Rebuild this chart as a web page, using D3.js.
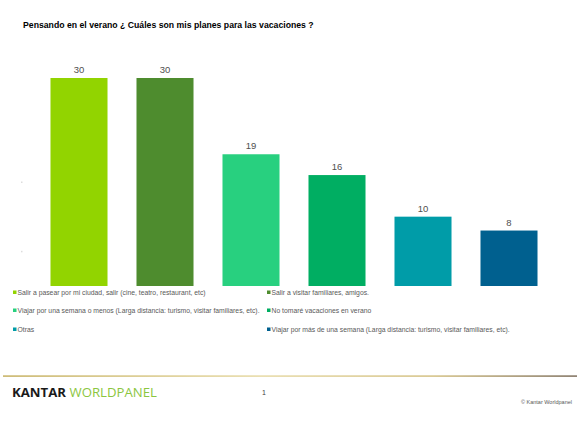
<!DOCTYPE html>
<html><head><meta charset="utf-8">
<script src="https://cdn.jsdelivr.net/npm/d3@7/dist/d3.min.js"></script>
<style>html,body{margin:0;padding:0;background:#fff;}svg{display:block;font-family:Arial,"Liberation Sans",sans-serif;}</style>
</head><body>
<script>
const title = "Pensando en el verano ¿ Cuáles son mis planes para las vacaciones ?";
const categories = [
  "Salir a pasear por mi ciudad, salir (cine, teatro, restaurant, etc)",
  "Salir a visitar familiares, amigos.",
  "Viajar por una semana o menos (Larga distancia: turismo, visitar familiares, etc).",
  "No tomaré vacaciones en verano",
  "Otras",
  "Viajar por más de una semana (Larga distancia: turismo, visitar familiares, etc)."
];
const values = [30, 30, 19, 16, 10, 8];
const colors = ["#92d400", "#4e8c2e", "#28d07f", "#00ae62", "#009ca8", "#00608f"];

const W = 579, H = 442;
const svg = d3.select("body").append("svg").attr("width", W).attr("height", H);

svg.append("text").attr("x", 23).attr("y", 28).attr("font-size", 8.7).attr("font-weight", "bold")
  .attr("fill", "#000").text(title);

const x = d3.scaleBand().domain(d3.range(categories.length)).range([36, 552])
  .paddingInner(0.337).paddingOuter(0.1685);
const y = d3.scaleLinear().domain([0, 30]).range([286, 78]);

// faint axis tick marks
svg.selectAll("rect.tick").data([15, 5]).join("rect").attr("class", "tick")
  .attr("x", 21).attr("y", d => y(d) - 0.5).attr("width", 1.5).attr("height", 1.5).attr("fill", "#ddd");

svg.selectAll("rect.bar").data(values).join("rect").attr("class", "bar")
  .attr("x", (d, i) => x(i)).attr("width", x.bandwidth())
  .attr("y", d => y(d)).attr("height", d => y(0) - y(d))
  .attr("fill", (d, i) => colors[i]);

svg.selectAll("text.val").data(values).join("text").attr("class", "val")
  .attr("x", (d, i) => x(i) + x.bandwidth() / 2).attr("y", d => y(d) - 5)
  .attr("text-anchor", "middle").attr("font-size", 9.5).attr("fill", "#505050").text(d => d);

// legend: two columns, three rows
const legCol = [13, 267], legRow = [295, 313, 332];
const leg = svg.selectAll("g.leg").data(categories).join("g").attr("class", "leg")
  .attr("transform", (d, i) => `translate(${legCol[i % 2]},${legRow[Math.floor(i / 2)]})`);
leg.append("rect").attr("x", 0).attr("y", -4.5).attr("width", 3.5).attr("height", 3.5)
  .attr("fill", (d, i) => colors[i]);
leg.append("text").attr("x", 4.5).attr("y", 0).attr("font-size", 6.8).attr("fill", "#595959").text(d => d);

// footer
const grad = svg.append("defs").append("linearGradient").attr("id", "gold")
  .attr("x1", "0%").attr("x2", "100%");
grad.append("stop").attr("offset", "0%").attr("stop-color", "#c9b56a");
grad.append("stop").attr("offset", "45%").attr("stop-color", "#e8dcaa");
grad.append("stop").attr("offset", "75%").attr("stop-color", "#d6c48a");
grad.append("stop").attr("offset", "100%").attr("stop-color", "#857766");
svg.append("rect").attr("x", 3).attr("y", 375.3).attr("width", 574).attr("height", 1.6).attr("fill", "url(#gold)");

const logo = svg.append("text").attr("x", 12).attr("y", 397).attr("font-size", 13.2)
  .attr("font-family", "'Open Sans','DejaVu Sans',sans-serif");
logo.append("tspan").attr("fill", "#1a1a1a").attr("font-weight", "bold").text("KANTAR ");
logo.append("tspan").attr("fill", "#8cc63f").text("WORLDPANEL");

svg.append("text").attr("x", 262).attr("y", 395).attr("font-size", 7).attr("fill", "#404040").text("1");
svg.append("text").attr("x", 572).attr("y", 404).attr("text-anchor", "end").attr("font-size", 5.5)
  .attr("fill", "#595959").text("© Kantar Worldpanel");
</script>
</body></html>
